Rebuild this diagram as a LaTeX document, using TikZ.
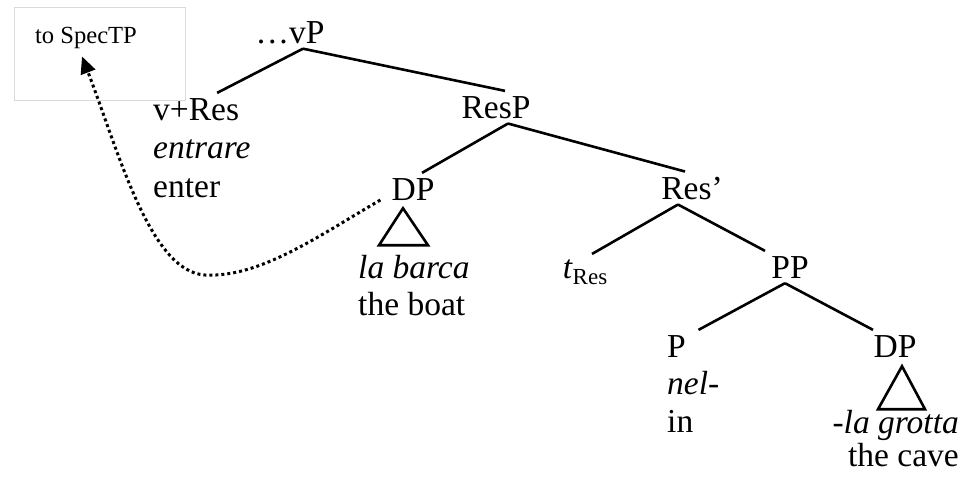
\documentclass[tikz,border=0pt]{standalone}
\usepackage{fontspec}
\setmainfont{Liberation Serif}
\usetikzlibrary{arrows.meta}
\definecolor{boxgray}{gray}{.86}
\newcommand{\tracesub}[1]{\raisebox{-6pt}{\fontsize{23}{26}\selectfont #1}}
\tikzset{
    cat/.style={anchor=base, inner xsep=0pt, inner ysep=5pt, font=\fontsize{33.5}{38}\selectfont},
    gloss/.style={cat},
    note/.style={cat, font=\fontsize{24.6}{28}\selectfont},
    branch/.style={line width=2.6pt},
    tri/.style={branch, line join=miter},
    move/.style={line width=3pt, dash pattern=on 3pt off 3pt,
        -{Triangle[length=17pt, width=15pt]}}
}
\begin{document}
\begin{tikzpicture}[x=1pt, y=-1pt]
    \useasboundingbox (0,0) rectangle (966,480);

    % landing site
    \node[draw=boxgray, line width=1pt, minimum width=171pt, minimum height=93pt, inner sep=0pt] (box) at (99.5,53.5) {};
    \node[note] (spec) at (86,43) {to SpecTP};

    % tree
    \node[cat] (vp) at (290,43) {…vP};
    \node[cat, anchor=base west] (vres) at (153,120) {v+Res};
    \node[gloss, anchor=base west] (vres-it) at (153,158) {\textit{entrare}};
    \node[gloss, anchor=base west] (vres-en) at (153,197) {enter};
    \node[cat] (resp) at (496,118) {ResP};
    \node[cat] (dpa) at (413,200) {DP};
    \node[gloss, anchor=base west] (dpa-it) at (358,278) {\textit{la barca}};
    \node[gloss, anchor=base west] (dpa-en) at (358,315) {the boat};
    \node[cat] (resbar) at (692,199) {Res’};
    \node[cat] (tres) at (585,278) {\textit{t}\tracesub{Res}};
    \node[cat] (pp) at (790,278) {PP};
    \node[cat, anchor=base west] (p) at (667,357) {P};
    \node[gloss, anchor=base west] (p-it) at (667,394) {\textit{nel-}};
    \node[gloss, anchor=base west] (p-en) at (667,432) {in};
    \node[cat] (dpb) at (895,357) {DP};
    \node[gloss, anchor=base east] (dpb-it) at (959,433) {\textit{-la grotta}};
    \node[gloss, anchor=base east] (dpb-en) at (959,466) {the cave};

    \draw[branch] ([xshift=13pt]vp.south) -- ([xshift=21pt]vres.north);
    \draw[branch] ([xshift=13pt]vp.south) -- ([xshift=9pt]resp.north);
    \draw[branch] ([xshift=12pt]resp.south) -- ([xshift=9pt]dpa.north);
    \draw[branch] ([xshift=12pt]resp.south) -- ([xshift=-7pt]resbar.north);
    \draw[branch] ([xshift=-14pt]resbar.south) -- ([xshift=7pt]tres.north);
    \draw[branch] ([xshift=-14pt]resbar.south) -- ([xshift=-25pt]pp.north);
    \draw[branch] ([xshift=-5pt]pp.south) -- ([xshift=22pt]p.north);
    \draw[branch] ([xshift=-5pt]pp.south) -- ([xshift=-22pt]dpb.north);

    % triangles for the DPs
    \draw[tri] (dpa.south) ++(-10,3) -- ++(-24,37) -- ++(49,0) -- cycle;
    \draw[tri] (dpb.south) ++(7,4) -- ++(-24,43) -- ++(47,0) -- cycle;

    % movement of the DP
    \draw[move] ([xshift=-11pt]dpa.base west)
        .. controls (320,235) and (260,278) .. (205,275)
        .. controls (150,272) and (118,150) .. ([xshift=-4pt, yshift=-3pt]spec.south);
\end{tikzpicture}
\end{document}
